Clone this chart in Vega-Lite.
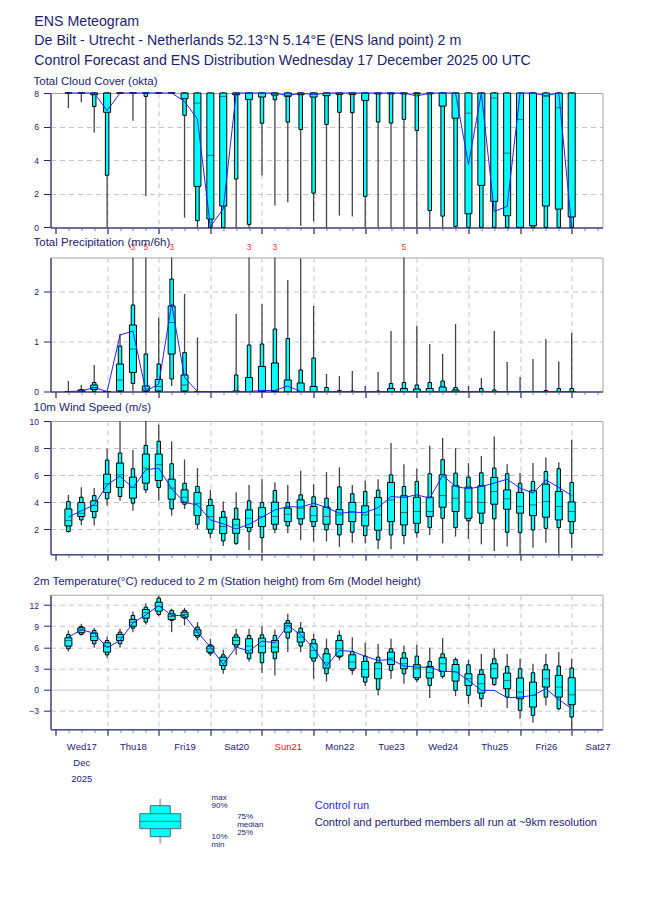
{
  "$schema": "https://vega.github.io/schema/vega-lite/v6.json",
  "background": "white",
  "padding": {"left": 27.5, "top": 15, "right": 10, "bottom": 10},
  "title": {
    "text": ["ENS Meteogram", "De Bilt - Utrecht - Netherlands 52.13°N 5.14°E (ENS land point) 2 m", "Control Forecast and ENS Distribution Wednesday 17 December 2025 00 UTC"],
    "fontSize": 14.2, "lineHeight": 19.3, "anchor": "start", "frame": "bounds", "offset": 8, "dx": 6
  },
  "config": {
    "font": "Liberation Sans",
    "view": {"stroke": "#a8a49c", "strokeWidth": 1},
    "axis": {"labelFont": "Liberation Sans", "labelColor": "#23236f", "labelFontSize": 8.5, "domainColor": "#4c4c88", "tickColor": "#23236f", "gridColor": "#c6c6c6", "gridDash": [5, 4]},
    "axisY": {"labelOverlap": false, "format": "d"},
    "title": {"font": "Liberation Sans", "fontWeight": "normal", "color": "#1d1d6d", "anchor": "start"},
    "text": {"font": "Liberation Sans"}
  },
  "datasets": {
    "cloud": [
      {"t":6,"min":7.1,"p10":8,"p25":8,"med":8,"p75":8,"p90":8,"max":8,"ctrl":8},
      {"t":12,"min":7.45,"p10":8,"p25":8,"med":8,"p75":8,"p90":8,"max":8,"ctrl":8},
      {"t":18,"min":5.65,"p10":7.2,"p25":7.9,"med":8,"p75":8,"p90":8,"max":8,"ctrl":8},
      {"t":24,"min":0,"p10":3.1,"p25":6.85,"med":8,"p75":8,"p90":8,"max":8,"ctrl":6.95},
      {"t":30,"min":8,"p10":8,"p25":8,"med":8,"p75":8,"p90":8,"max":8,"ctrl":8},
      {"t":36,"min":6.35,"p10":8,"p25":8,"med":8,"p75":8,"p90":8,"max":8,"ctrl":8},
      {"t":42,"min":1.85,"p10":7.8,"p25":8,"med":8,"p75":8,"p90":8,"max":8,"ctrl":8},
      {"t":48,"min":8,"p10":8,"p25":8,"med":8,"p75":8,"p90":8,"max":8,"ctrl":8},
      {"t":54,"min":8,"p10":8,"p25":8,"med":8,"p75":8,"p90":8,"max":8,"ctrl":8},
      {"t":60,"min":0.58,"p10":6.67,"p25":7.66,"med":8,"p75":8,"p90":8,"max":8,"ctrl":7.5},
      {"t":66,"min":0,"p10":0.4,"p25":2.44,"med":7.4,"p75":8,"p90":8,"max":8,"ctrl":6.45},
      {"t":72,"min":0,"p10":0,"p25":0.5,"med":4.29,"p75":8,"p90":8,"max":8,"ctrl":0.05},
      {"t":78,"min":0,"p10":0,"p25":1.27,"med":7.8,"p75":8,"p90":8,"max":8,"ctrl":1.1},
      {"t":84,"min":0,"p10":2.88,"p25":7.9,"med":8,"p75":8,"p90":8,"max":8,"ctrl":8},
      {"t":90,"min":0,"p10":0.18,"p25":7.62,"med":8,"p75":8,"p90":8,"max":8,"ctrl":8},
      {"t":96,"min":3.1,"p10":6.2,"p25":7.76,"med":8,"p75":8,"p90":8,"max":8,"ctrl":8},
      {"t":102,"min":1.3,"p10":7.6,"p25":7.88,"med":8,"p75":8,"p90":8,"max":8,"ctrl":8},
      {"t":108,"min":1.5,"p10":6.27,"p25":7.8,"med":8,"p75":8,"p90":8,"max":8,"ctrl":7.84},
      {"t":114,"min":0.1,"p10":5.83,"p25":7.9,"med":8,"p75":8,"p90":8,"max":8,"ctrl":8},
      {"t":120,"min":0.36,"p10":2.04,"p25":7.76,"med":8,"p75":8,"p90":8,"max":8,"ctrl":7.9},
      {"t":126,"min":0,"p10":6.13,"p25":7.84,"med":8,"p75":8,"p90":8,"max":8,"ctrl":8},
      {"t":132,"min":0.7,"p10":6.85,"p25":7.92,"med":8,"p75":8,"p90":8,"max":8,"ctrl":8},
      {"t":138,"min":0.65,"p10":6.83,"p25":7.92,"med":8,"p75":8,"p90":8,"max":8,"ctrl":8},
      {"t":144,"min":0,"p10":1.85,"p25":7.56,"med":8,"p75":8,"p90":8,"max":8,"ctrl":8},
      {"t":150,"min":0,"p10":6.27,"p25":7.95,"med":8,"p75":8,"p90":8,"max":8,"ctrl":8},
      {"t":156,"min":0,"p10":6.21,"p25":7.95,"med":8,"p75":8,"p90":8,"max":8,"ctrl":8},
      {"t":162,"min":0,"p10":6.43,"p25":7.95,"med":8,"p75":8,"p90":8,"max":8,"ctrl":8},
      {"t":168,"min":0,"p10":5.77,"p25":7.95,"med":8,"p75":8,"p90":8,"max":8,"ctrl":7.82},
      {"t":174,"min":0,"p10":1.0,"p25":7.95,"med":8,"p75":8,"p90":8,"max":8,"ctrl":8},
      {"t":180,"min":0,"p10":0.67,"p25":7.22,"med":8,"p75":8,"p90":8,"max":8,"ctrl":8},
      {"t":186,"min":0,"p10":0.06,"p25":6.5,"med":8,"p75":8,"p90":8,"max":8,"ctrl":8},
      {"t":192,"min":0,"p10":0,"p25":0.81,"med":6.8,"p75":8,"p90":8,"max":8,"ctrl":3.75},
      {"t":198,"min":0,"p10":0,"p25":2.5,"med":8,"p75":8,"p90":8,"max":8,"ctrl":8},
      {"t":204,"min":0,"p10":0,"p25":1.55,"med":7.7,"p75":8,"p90":8,"max":8,"ctrl":0.95},
      {"t":210,"min":0,"p10":0,"p25":0.69,"med":4.42,"p75":8,"p90":8,"max":8,"ctrl":1.25},
      {"t":216,"min":0,"p10":0,"p25":0,"med":6.43,"p75":8,"p90":8,"max":8,"ctrl":8},
      {"t":222,"min":0,"p10":0,"p25":0.1,"med":8,"p75":8,"p90":8,"max":8,"ctrl":8},
      {"t":228,"min":0,"p10":0,"p25":1.27,"med":7.8,"p75":8,"p90":8,"max":8,"ctrl":7.84},
      {"t":234,"min":0,"p10":0,"p25":1.09,"med":7.12,"p75":8,"p90":8,"max":8,"ctrl":8},
      {"t":240,"min":0,"p10":0,"p25":0.62,"med":8,"p75":8,"p90":8,"max":8,"ctrl":0}
    ],
    "precip": [
      {"t":6,"min":0,"p10":0,"p25":0,"med":0,"p75":0,"p90":0,"max":0.21,"ctrl":0},
      {"t":12,"min":0,"p10":0,"p25":0,"med":0,"p75":0.03,"p90":0.04,"max":0.13,"ctrl":0.01},
      {"t":18,"min":0,"p10":0,"p25":0.04,"med":0.08,"p75":0.13,"p90":0.18,"max":0.53,"ctrl":0.08},
      {"t":24,"min":0,"p10":0,"p25":0,"med":0,"p75":0,"p90":0,"max":0,"ctrl":0},
      {"t":30,"min":0,"p10":0,"p25":0.01,"med":0.23,"p75":0.55,"p90":0.91,"max":1.15,"ctrl":1.13},
      {"t":36,"min":0,"p10":0.16,"p25":0.38,"med":0.85,"p75":1.33,"p90":1.73,"max":3.2,"ctrl":1.21},
      {"t":42,"min":0,"p10":0,"p25":0.01,"med":0.05,"p75":0.11,"p90":0.75,"max":5.0,"ctrl":0.01},
      {"t":48,"min":0,"p10":0,"p25":0.01,"med":0.1,"p75":0.24,"p90":0.55,"max":1.48,"ctrl":0.15},
      {"t":54,"min":0.11,"p10":0.25,"p25":0.75,"med":1.38,"p75":1.71,"p90":2.25,"max":3.1,"ctrl":1.75},
      {"t":60,"min":0,"p10":0,"p25":0.01,"med":0.13,"p75":0.33,"p90":0.78,"max":1.95,"ctrl":0.28},
      {"t":66,"min":0,"p10":0,"p25":0,"med":0,"p75":0,"p90":0,"max":1.08,"ctrl":0},
      {"t":72,"min":0,"p10":0,"p25":0,"med":0,"p75":0,"p90":0,"max":0,"ctrl":0},
      {"t":78,"min":0,"p10":0,"p25":0,"med":0,"p75":0,"p90":0,"max":0,"ctrl":0},
      {"t":84,"min":0,"p10":0,"p25":0,"med":0,"p75":0.01,"p90":0.33,"max":1.55,"ctrl":0},
      {"t":90,"min":0,"p10":0,"p25":0,"med":0,"p75":0.28,"p90":0.93,"max":3.0,"ctrl":0},
      {"t":96,"min":0,"p10":0,"p25":0,"med":0.01,"p75":0.5,"p90":0.95,"max":1.75,"ctrl":0.02},
      {"t":102,"min":0,"p10":0,"p25":0,"med":0.01,"p75":0.57,"p90":1.25,"max":3.0,"ctrl":0.02},
      {"t":108,"min":0,"p10":0,"p25":0,"med":0,"p75":0.23,"p90":1.06,"max":2.23,"ctrl":0.11},
      {"t":114,"min":0,"p10":0,"p25":0,"med":0,"p75":0.17,"p90":0.43,"max":2.66,"ctrl":0},
      {"t":120,"min":0,"p10":0,"p25":0,"med":0,"p75":0.1,"p90":0.67,"max":1.71,"ctrl":0},
      {"t":126,"min":0,"p10":0,"p25":0,"med":0,"p75":0,"p90":0.08,"max":0.35,"ctrl":0},
      {"t":132,"min":0,"p10":0,"p25":0,"med":0,"p75":0,"p90":0.02,"max":0.31,"ctrl":0},
      {"t":138,"min":0,"p10":0,"p25":0,"med":0,"p75":0,"p90":0.01,"max":0.41,"ctrl":0},
      {"t":144,"min":0,"p10":0,"p25":0,"med":0,"p75":0,"p90":0,"max":0.11,"ctrl":0},
      {"t":150,"min":0,"p10":0,"p25":0,"med":0,"p75":0,"p90":0.01,"max":0.39,"ctrl":0},
      {"t":156,"min":0,"p10":0,"p25":0,"med":0,"p75":0.06,"p90":0.16,"max":1.21,"ctrl":0},
      {"t":162,"min":0,"p10":0,"p25":0,"med":0,"p75":0.06,"p90":0.18,"max":5.0,"ctrl":0},
      {"t":168,"min":0,"p10":0,"p25":0,"med":0,"p75":0.05,"p90":0.13,"max":1.31,"ctrl":0},
      {"t":174,"min":0,"p10":0,"p25":0,"med":0,"p75":0.06,"p90":0.18,"max":0.95,"ctrl":0},
      {"t":180,"min":0,"p10":0,"p25":0,"med":0,"p75":0.09,"p90":0.21,"max":0.75,"ctrl":0},
      {"t":186,"min":0,"p10":0,"p25":0,"med":0,"p75":0.03,"p90":0.08,"max":1.35,"ctrl":0},
      {"t":192,"min":0,"p10":0,"p25":0,"med":0,"p75":0,"p90":0,"max":0.11,"ctrl":0},
      {"t":198,"min":0,"p10":0,"p25":0,"med":0,"p75":0,"p90":0.06,"max":0.27,"ctrl":0},
      {"t":204,"min":0,"p10":0,"p25":0,"med":0,"p75":0,"p90":0.03,"max":1.21,"ctrl":0},
      {"t":210,"min":0,"p10":0,"p25":0,"med":0,"p75":0,"p90":0,"max":0.59,"ctrl":0},
      {"t":216,"min":0,"p10":0,"p25":0,"med":0,"p75":0,"p90":0,"max":0.29,"ctrl":0},
      {"t":222,"min":0,"p10":0,"p25":0,"med":0,"p75":0,"p90":0,"max":0.65,"ctrl":0},
      {"t":228,"min":0,"p10":0,"p25":0,"med":0,"p75":0,"p90":0.02,"max":1.05,"ctrl":0},
      {"t":234,"min":0,"p10":0,"p25":0,"med":0,"p75":0,"p90":0.06,"max":0.6,"ctrl":0},
      {"t":240,"min":0,"p10":0,"p25":0,"med":0,"p75":0,"p90":0.06,"max":1.17,"ctrl":0}
    ],
    "wind": [
      {"t":6,"min":1.75,"p10":1.83,"p25":2.25,"med":2.64,"p75":3.5,"p90":4.05,"max":4.54,"ctrl":2.9},
      {"t":12,"min":2.3,"p10":2.69,"p25":2.94,"med":3.18,"p75":3.97,"p90":4.37,"max":5.1,"ctrl":3.36},
      {"t":18,"min":2.27,"p10":2.86,"p25":3.31,"med":3.75,"p75":4.1,"p90":4.49,"max":5.04,"ctrl":3.8},
      {"t":24,"min":3.75,"p10":4.25,"p25":4.72,"med":5.36,"p75":6.07,"p90":7.11,"max":7.95,"ctrl":5.28},
      {"t":30,"min":4.1,"p10":4.42,"p25":5.09,"med":6.02,"p75":6.89,"p90":7.63,"max":10.5,"ctrl":5.93},
      {"t":36,"min":3.36,"p10":3.93,"p25":4.3,"med":5.09,"p75":5.85,"p90":6.47,"max":7.85,"ctrl":5.04},
      {"t":42,"min":4.67,"p10":4.91,"p25":5.41,"med":6.52,"p75":7.56,"p90":8.2,"max":10.3,"ctrl":6.4},
      {"t":48,"min":4.1,"p10":5.09,"p25":5.6,"med":6.77,"p75":7.56,"p90":8.5,"max":9.73,"ctrl":6.52},
      {"t":54,"min":3.0,"p10":3.5,"p25":4.22,"med":5.04,"p75":5.7,"p90":6.84,"max":8.5,"ctrl":4.99},
      {"t":60,"min":3.5,"p10":3.85,"p25":4.0,"med":4.37,"p75":4.91,"p90":5.4,"max":7.16,"ctrl":3.98},
      {"t":66,"min":2.02,"p10":2.37,"p25":3.01,"med":3.93,"p75":4.72,"p90":5.16,"max":6.52,"ctrl":3.8},
      {"t":72,"min":1.33,"p10":1.7,"p25":2.0,"med":2.94,"p75":3.75,"p90":4.22,"max":4.91,"ctrl":2.69},
      {"t":78,"min":0.77,"p10":1.14,"p25":1.68,"med":2.2,"p75":2.89,"p90":3.31,"max":4.05,"ctrl":2.4},
      {"t":84,"min":0.84,"p10":0.96,"p25":1.7,"med":2.32,"p75":2.74,"p90":3.56,"max":4.74,"ctrl":2.02},
      {"t":90,"min":0.47,"p10":1.83,"p25":2.12,"med":2.81,"p75":3.43,"p90":4.1,"max":5.28,"ctrl":2.37},
      {"t":96,"min":0.22,"p10":1.38,"p25":2.2,"med":2.94,"p75":3.6,"p90":3.98,"max":5.7,"ctrl":2.89},
      {"t":102,"min":1.7,"p10":2.0,"p25":2.37,"med":2.94,"p75":4.0,"p90":4.86,"max":5.48,"ctrl":3.43},
      {"t":108,"min":1.7,"p10":2.25,"p25":2.57,"med":3.11,"p75":3.56,"p90":3.98,"max":5.28,"ctrl":3.68},
      {"t":114,"min":1.21,"p10":2.37,"p25":2.77,"med":3.56,"p75":4.17,"p90":4.54,"max":6.32,"ctrl":3.63},
      {"t":120,"min":1.09,"p10":2.2,"p25":2.57,"med":3.0,"p75":3.68,"p90":4.4,"max":5.33,"ctrl":3.93},
      {"t":126,"min":1.09,"p10":1.95,"p25":2.37,"med":2.94,"p75":3.63,"p90":4.3,"max":6.22,"ctrl":3.6},
      {"t":132,"min":0.7,"p10":1.58,"p25":2.35,"med":3.06,"p75":3.45,"p90":5.13,"max":6.57,"ctrl":3.19},
      {"t":138,"min":1.01,"p10":1.78,"p25":2.57,"med":3.31,"p75":3.98,"p90":4.62,"max":5.28,"ctrl":3.26},
      {"t":144,"min":0.96,"p10":1.53,"p25":2.25,"med":3.06,"p75":3.73,"p90":4.79,"max":5.6,"ctrl":3.23},
      {"t":150,"min":0.54,"p10":1.21,"p25":1.93,"med":3.06,"p75":4.35,"p90":4.89,"max":5.7,"ctrl":3.6},
      {"t":156,"min":0.52,"p10":1.58,"p25":2.57,"med":4.17,"p75":5.46,"p90":6.02,"max":8.37,"ctrl":4.42},
      {"t":162,"min":0.89,"p10":1.53,"p25":2.32,"med":3.23,"p75":4.47,"p90":5.16,"max":6.81,"ctrl":4.35},
      {"t":168,"min":1.38,"p10":1.75,"p25":2.44,"med":3.31,"p75":4.37,"p90":5.53,"max":6.47,"ctrl":4.54},
      {"t":174,"min":1.58,"p10":2.12,"p25":2.94,"med":3.31,"p75":4.37,"p90":6.1,"max":8.17,"ctrl":4.3},
      {"t":180,"min":0.96,"p10":2.81,"p25":3.63,"med":4.49,"p75":6.02,"p90":7.14,"max":8.74,"ctrl":5.98},
      {"t":186,"min":1.46,"p10":2.12,"p25":3.31,"med":4.3,"p75":5.21,"p90":6.15,"max":8.0,"ctrl":5.16},
      {"t":192,"min":1.28,"p10":2.62,"p25":2.81,"med":4.0,"p75":5.11,"p90":5.85,"max":6.89,"ctrl":4.99},
      {"t":198,"min":0.89,"p10":2.44,"p25":3.19,"med":3.98,"p75":5.21,"p90":6.17,"max":7.41,"ctrl":5.16},
      {"t":204,"min":0.4,"p10":2.77,"p25":3.85,"med":4.79,"p75":5.83,"p90":6.52,"max":8.86,"ctrl":5.41},
      {"t":210,"min":0.72,"p10":1.78,"p25":3.48,"med":4.25,"p75":4.91,"p90":6.1,"max":6.81,"ctrl":5.7},
      {"t":216,"min":0.15,"p10":1.75,"p25":3.19,"med":3.68,"p75":4.72,"p90":5.4,"max":6.15,"ctrl":5.04},
      {"t":222,"min":0.64,"p10":1.95,"p25":3.01,"med":3.8,"p75":4.84,"p90":5.53,"max":6.89,"ctrl":4.67},
      {"t":228,"min":1.01,"p10":2.07,"p25":2.89,"med":4.05,"p75":5.33,"p90":6.27,"max":7.31,"ctrl":5.65},
      {"t":234,"min":0.15,"p10":2.12,"p25":2.69,"med":3.68,"p75":4.79,"p90":6.47,"max":6.96,"ctrl":5.09},
      {"t":240,"min":0.64,"p10":1.7,"p25":2.57,"med":3.31,"p75":4.02,"p90":5.46,"max":8.62,"ctrl":4.49}
    ],
    "temp": [
      {"t":6,"min":5.42,"p10":5.8,"p25":6.18,"med":6.98,"p75":7.36,"p90":7.83,"max":8.4,"ctrl":7.45},
      {"t":12,"min":7.69,"p10":7.83,"p25":8.07,"med":8.49,"p75":8.77,"p90":8.96,"max":9.34,"ctrl":8.49},
      {"t":18,"min":5.94,"p10":6.51,"p25":6.98,"med":7.55,"p75":8.02,"p90":8.4,"max":8.73,"ctrl":8.02},
      {"t":24,"min":4.48,"p10":4.95,"p25":5.33,"med":6.13,"p75":6.65,"p90":6.98,"max":7.55,"ctrl":5.94},
      {"t":30,"min":5.94,"p10":6.51,"p25":6.98,"med":7.45,"p75":7.83,"p90":8.16,"max":8.63,"ctrl":6.98},
      {"t":36,"min":8.16,"p10":8.73,"p25":9.0,"med":9.58,"p75":9.95,"p90":10.52,"max":11.08,"ctrl":9.48},
      {"t":42,"min":9.25,"p10":9.58,"p25":10.14,"med":10.9,"p75":11.37,"p90":11.7,"max":12.26,"ctrl":10.6},
      {"t":48,"min":10.42,"p10":10.66,"p25":11.13,"med":11.8,"p75":12.4,"p90":12.97,"max":13.35,"ctrl":11.93},
      {"t":54,"min":8.16,"p10":9.81,"p25":9.95,"med":10.38,"p75":10.75,"p90":11.23,"max":11.46,"ctrl":10.52},
      {"t":60,"min":9.1,"p10":10.14,"p25":10.28,"med":10.66,"p75":10.99,"p90":11.23,"max":11.6,"ctrl":10.52},
      {"t":66,"min":6.98,"p10":7.45,"p25":7.69,"med":8.16,"p75":8.49,"p90":8.87,"max":9.58,"ctrl":8.16},
      {"t":72,"min":4.76,"p10":5.09,"p25":5.33,"med":5.8,"p75":6.18,"p90":6.37,"max":7.22,"ctrl":6.04},
      {"t":78,"min":2.26,"p10":2.88,"p25":3.44,"med":4.15,"p75":4.62,"p90":4.95,"max":5.66,"ctrl":3.58},
      {"t":84,"min":4.95,"p10":6.04,"p25":6.37,"med":6.98,"p75":7.45,"p90":7.78,"max":8.63,"ctrl":6.04},
      {"t":90,"min":4.01,"p10":4.39,"p25":5.19,"med":6.18,"p75":7.22,"p90":7.69,"max":8.63,"ctrl":5.47},
      {"t":96,"min":2.36,"p10":3.82,"p25":5.24,"med":6.18,"p75":7.31,"p90":7.78,"max":9.0,"ctrl":6.89},
      {"t":102,"min":2.03,"p10":4.39,"p25":5.33,"med":6.04,"p75":6.98,"p90":7.69,"max":8.54,"ctrl":6.65},
      {"t":108,"min":5.33,"p10":7.31,"p25":8.16,"med":9.1,"p75":9.43,"p90":9.81,"max":10.75,"ctrl":9.1},
      {"t":114,"min":5.33,"p10":6.18,"p25":6.75,"med":7.45,"p75":8.16,"p90":8.73,"max":9.58,"ctrl":7.78},
      {"t":120,"min":1.56,"p10":4.06,"p25":4.48,"med":5.57,"p75":6.51,"p90":7.12,"max":7.92,"ctrl":5.9},
      {"t":126,"min":1.18,"p10":2.26,"p25":3.07,"med":3.82,"p75":5.09,"p90":5.8,"max":7.22,"ctrl":3.35},
      {"t":132,"min":4.15,"p10":4.62,"p25":4.76,"med":5.8,"p75":6.98,"p90":7.69,"max":8.4,"ctrl":5.57},
      {"t":138,"min":2.12,"p10":2.74,"p25":2.97,"med":3.92,"p75":4.95,"p90":5.42,"max":7.45,"ctrl":5.42},
      {"t":144,"min":0.52,"p10":1.08,"p25":1.79,"med":2.88,"p75":4.01,"p90":4.76,"max":6.65,"ctrl":4.76},
      {"t":150,"min":-0.8,"p10":0.05,"p25":1.56,"med":2.97,"p75":3.82,"p90":4.62,"max":6.51,"ctrl":4.15},
      {"t":156,"min":1.56,"p10":2.74,"p25":3.58,"med":4.48,"p75":5.33,"p90":5.8,"max":7.22,"ctrl":4.29},
      {"t":162,"min":0.85,"p10":2.26,"p25":2.97,"med":3.68,"p75":4.48,"p90":5.24,"max":6.27,"ctrl":3.35},
      {"t":168,"min":1.08,"p10":1.42,"p25":1.7,"med":2.97,"p75":3.54,"p90":4.76,"max":6.37,"ctrl":3.21},
      {"t":174,"min":-1.18,"p10":0.61,"p25":1.65,"med":2.41,"p75":3.3,"p90":4.01,"max":5.94,"ctrl":3.16},
      {"t":180,"min":1.56,"p10":1.89,"p25":2.59,"med":3.68,"p75":4.53,"p90":5.09,"max":7.31,"ctrl":2.59},
      {"t":186,"min":-0.9,"p10":-0.09,"p25":1.23,"med":2.5,"p75":3.58,"p90":4.29,"max":4.6,"ctrl":2.59},
      {"t":192,"min":-1.98,"p10":-0.8,"p25":0.61,"med":1.56,"p75":2.26,"p90":3.54,"max":4.25,"ctrl":1.32},
      {"t":198,"min":-2.45,"p10":-1.27,"p25":-0.47,"med":0.85,"p75":2.17,"p90":2.83,"max":5.09,"ctrl":-0.09},
      {"t":204,"min":0.52,"p10":0.75,"p25":1.65,"med":2.97,"p75":3.68,"p90":4.39,"max":5.8,"ctrl":-0.09},
      {"t":210,"min":-2.59,"p10":-1.04,"p25":0.14,"med":1.32,"p75":2.36,"p90":3.3,"max":5.09,"ctrl":-1.13},
      {"t":216,"min":-4.1,"p10":-2.92,"p25":-1.27,"med":-0.33,"p75":1.65,"p90":2.97,"max":4.39,"ctrl":-1.04},
      {"t":222,"min":-4.67,"p10":-3.63,"p25":-2.45,"med":-0.8,"p75":1.08,"p90":2.41,"max":3.68,"ctrl":-0.8},
      {"t":228,"min":-2.22,"p10":-1.04,"p25":0.38,"med":1.56,"p75":2.83,"p90":3.54,"max":5.09,"ctrl":0.14},
      {"t":234,"min":-2.92,"p10":-2.69,"p25":-1.04,"med":0.38,"p75":2.03,"p90":3.35,"max":5.33,"ctrl":-1.37},
      {"t":240,"min":-5.61,"p10":-3.87,"p25":-2.12,"med":-0.71,"p75":1.7,"p90":3.07,"max":4.39,"ctrl":-2.69}
    ],
    "legendbox": [
      {"min":5,"p10":12,"p25":20,"med":27.3,"p75":35,"p90":43,"max":50}
    ]
  },
  "vconcat": [
    {
      "vconcat": [
        {
          "vconcat": [
            {
              "title": {"text": "Total Cloud Cover (okta)", "fontSize": 11.5, "frame": "group", "dx": -17, "offset": -7.85, "baseline": "alphabetic"},
              "width": 552, "height": 134.4,
              "data": {"name": "cloud"},
              "encoding": {
                "x": {"field": "t", "type": "quantitative", "scale": {"domain": [0, 252], "nice": false, "zero": false},
                  "axis": {"title": null, "labels": false, "values": [0,6,12,18,24,30,36,42,48,54,60,66,72,78,84,90,96,102,108,114,120,126,132,138,144,150,156,162,168,174,180,186,192,198,204,210,216,222,228,234,240,246,252],
                    "domainColor": "#4c4c88", "domainWidth": 1.5, "tickWidth": 1.2, "tickCount": 100,
                    "tickSize": {"condition": {"test": "datum.value % 24 === 0", "value": 6}, "value": 3},
                    "tickColor": {"condition": {"test": "datum.value % 24 === 0", "value": "#23236f"}, "value": "#9090b8"},
                    "grid": true,
                    "gridOpacity": {"condition": {"test": "datum.value % 24 === 0 && datum.value > 0 && datum.value < 252", "value": 1}, "value": 0}}}
              },
              "layer": [
                {"mark": {"type": "rule", "color": "#444444", "strokeWidth": 1.3},
                 "encoding": {"y": {"field": "min", "type": "quantitative", "scale": {"domain": [0, 8], "nice": false, "zero": false, "clamp": true},
                   "axis": {"title": null, "values": [0, 2, 4, 6, 8], "tickCount": 50, "tickSize": 7, "labelPadding": 5, "domainWidth": 1.5, "grid": true, "labelOverlap": false, "format": "d",
                     "gridOpacity": {"condition": {"test": "datum.value > 0 && datum.value < 8", "value": 1}, "value": 0}}},
                   "y2": {"field": "max"}}},
                {"mark": {"type": "bar", "size": 3.5, "fill": "#00ffff", "stroke": "#000000", "strokeWidth": 1},
                 "encoding": {"y": {"field": "p10", "type": "quantitative", "title": null}, "y2": {"field": "p90"}}},
                {"mark": {"type": "bar", "size": 7, "fill": "#00ffff", "stroke": "#000000", "strokeWidth": 1},
                 "encoding": {"y": {"field": "p25", "type": "quantitative", "title": null}, "y2": {"field": "p75"}}},
                {"mark": {"type": "tick", "orient": "horizontal", "size": 7, "thickness": 1, "color": "#333333"},
                 "encoding": {"y": {"field": "med", "type": "quantitative", "title": null}}},
                {"mark": {"type": "line", "color": "#2222ff", "strokeWidth": 1},
                 "encoding": {"y": {"field": "ctrl", "type": "quantitative", "title": null}}}
              ]
            },
            {
              "title": {"text": "Total Precipitation (mm/6h)", "fontSize": 11.5, "frame": "group", "dx": -17, "offset": -15.1, "baseline": "alphabetic"},
              "width": 552, "height": 134,
              "data": {"name": "precip"},
              "encoding": {
                "x": {"field": "t", "type": "quantitative", "scale": {"domain": [0, 252], "nice": false, "zero": false},
                  "axis": {"title": null, "labels": false, "values": [0,6,12,18,24,30,36,42,48,54,60,66,72,78,84,90,96,102,108,114,120,126,132,138,144,150,156,162,168,174,180,186,192,198,204,210,216,222,228,234,240,246,252],
                    "domainColor": "#4c4c88", "domainWidth": 1.5, "tickWidth": 1.2, "tickCount": 100,
                    "tickSize": {"condition": {"test": "datum.value % 24 === 0", "value": 6}, "value": 3},
                    "tickColor": {"condition": {"test": "datum.value % 24 === 0", "value": "#23236f"}, "value": "#9090b8"},
                    "grid": true,
                    "gridOpacity": {"condition": {"test": "datum.value % 24 === 0 && datum.value > 0 && datum.value < 252", "value": 1}, "value": 0}}}
              },
              "layer": [
                {"mark": {"type": "rule", "color": "#444444", "strokeWidth": 1.3},
                 "encoding": {"y": {"field": "min", "type": "quantitative", "scale": {"domain": [0, 2.68], "nice": false, "zero": false, "clamp": true},
                   "axis": {"title": null, "values": [0, 1, 2], "tickCount": 50, "tickSize": 7, "labelPadding": 5, "domainWidth": 1.5, "grid": true, "labelOverlap": false, "format": "d",
                     "gridOpacity": {"condition": {"test": "datum.value > 0", "value": 1}, "value": 0}}},
                   "y2": {"field": "max"}}},
                {"mark": {"type": "bar", "size": 3.5, "fill": "#00ffff", "stroke": "#000000", "strokeWidth": 1},
                 "encoding": {"y": {"field": "p10", "type": "quantitative", "title": null}, "y2": {"field": "p90"}}},
                {"mark": {"type": "bar", "size": 7, "fill": "#00ffff", "stroke": "#000000", "strokeWidth": 1},
                 "encoding": {"y": {"field": "p25", "type": "quantitative", "title": null}, "y2": {"field": "p75"}}},
                {"mark": {"type": "tick", "orient": "horizontal", "size": 7, "thickness": 1, "color": "#333333"},
                 "encoding": {"y": {"field": "med", "type": "quantitative", "title": null}}},
                {"mark": {"type": "line", "color": "#2222ff", "strokeWidth": 1},
                 "encoding": {"y": {"field": "ctrl", "type": "quantitative", "title": null}}},
                {"transform": [{"filter": "datum.max > 2.68"}],
                 "mark": {"type": "text", "color": "#ff3333", "fontSize": 8.5, "baseline": "middle", "dy": -11},
                 "encoding": {"y": {"field": "max", "type": "quantitative", "title": null}, "text": {"field": "max", "type": "quantitative", "format": ".0f"}}}
              ]
            },
            {
              "title": {"text": "10m Wind Speed (m/s)", "fontSize": 11.5, "frame": "group", "dx": -17, "offset": -5.85, "baseline": "alphabetic"},
              "width": 552, "height": 133.3,
              "data": {"name": "wind"},
              "encoding": {
                "x": {"field": "t", "type": "quantitative", "scale": {"domain": [0, 252], "nice": false, "zero": false},
                  "axis": {"title": null, "labels": false, "values": [0,6,12,18,24,30,36,42,48,54,60,66,72,78,84,90,96,102,108,114,120,126,132,138,144,150,156,162,168,174,180,186,192,198,204,210,216,222,228,234,240,246,252],
                    "domainColor": "#4c4c88", "domainWidth": 1.5, "tickWidth": 1.2, "tickCount": 100,
                    "tickSize": {"condition": {"test": "datum.value % 24 === 0", "value": 6}, "value": 3},
                    "tickColor": {"condition": {"test": "datum.value % 24 === 0", "value": "#23236f"}, "value": "#9090b8"},
                    "grid": true,
                    "gridOpacity": {"condition": {"test": "datum.value % 24 === 0 && datum.value > 0 && datum.value < 252", "value": 1}, "value": 0}}}
              },
              "layer": [
                {"mark": {"type": "rule", "color": "#444444", "strokeWidth": 1.3},
                 "encoding": {"y": {"field": "min", "type": "quantitative", "scale": {"domain": [0.15, 10], "nice": false, "zero": false, "clamp": true},
                   "axis": {"title": null, "values": [2, 4, 6, 8, 10], "tickCount": 50, "tickSize": 7, "labelPadding": 5, "domainWidth": 1.5, "grid": true, "labelOverlap": false, "format": "d",
                     "gridOpacity": {"condition": {"test": "datum.value < 10", "value": 1}, "value": 0}}},
                   "y2": {"field": "max"}}},
                {"mark": {"type": "bar", "size": 3.5, "fill": "#00ffff", "stroke": "#000000", "strokeWidth": 1},
                 "encoding": {"y": {"field": "p10", "type": "quantitative", "title": null}, "y2": {"field": "p90"}}},
                {"mark": {"type": "bar", "size": 7, "fill": "#00ffff", "stroke": "#000000", "strokeWidth": 1},
                 "encoding": {"y": {"field": "p25", "type": "quantitative", "title": null}, "y2": {"field": "p75"}}},
                {"mark": {"type": "tick", "orient": "horizontal", "size": 7, "thickness": 1, "color": "#333333"},
                 "encoding": {"y": {"field": "med", "type": "quantitative", "title": null}}},
                {"mark": {"type": "line", "color": "#2222ff", "strokeWidth": 1},
                 "encoding": {"y": {"field": "ctrl", "type": "quantitative", "title": null}}}
              ]
            }
          ],
          "spacing": 1.5
        },
        {
          "title": {"text": "2m Temperature(°C) reduced to 2 m (Station height) from 6m (Model height)", "fontSize": 11.5, "frame": "group", "dx": -17, "offset": -1.4, "baseline": "alphabetic"},
          "width": 552, "height": 134.6,
          "data": {"name": "temp"},
          "encoding": {
            "x": {"field": "t", "type": "quantitative", "scale": {"domain": [0, 252], "nice": false, "zero": false},
              "axis": {"title": null, "values": [0,6,12,18,24,30,36,42,48,54,60,66,72,78,84,90,96,102,108,114,120,126,132,138,144,150,156,162,168,174,180,186,192,198,204,210,216,222,228,234,240,246,252],
                "domainColor": "#4c4c88", "domainWidth": 1.5, "tickWidth": 1.2, "tickCount": 100,
                "tickSize": {"condition": {"test": "datum.value % 24 === 0", "value": 6}, "value": 3},
                "tickColor": {"condition": {"test": "datum.value % 24 === 0", "value": "#23236f"}, "value": "#9090b8"},
                "grid": true,
                "gridOpacity": {"condition": {"test": "datum.value % 24 === 0 && datum.value > 0 && datum.value < 252", "value": 1}, "value": 0},
                "labelExpr": "datum.value === 12 ? ['Wed17', 'Dec', '2025'] : (datum.value % 24 === 12 ? ['Wed17','Thu18','Fri19','Sat20','Sun21','Mon22','Tue23','Wed24','Thu25','Fri26','Sat27'][floor(datum.value / 24)] : '')",
                "labelFontSize": 9.5, "labelLineHeight": 16, "labelPadding": 9, "labelOverlap": false, "labelFlush": false, "labelBaseline": "top",
                "labelColor": {"condition": {"test": "datum.value === 108", "value": "#ee1111"}, "value": "#23236f"}}}
          },
          "layer": [
            {"mark": {"type": "rule", "color": "#444444", "strokeWidth": 1.3},
             "encoding": {"y": {"field": "min", "type": "quantitative", "scale": {"domain": [-5.6, 13.46], "nice": false, "zero": false, "clamp": true},
               "axis": {"title": null, "values": [-3, 0, 3, 6, 9, 12], "tickCount": 50, "tickSize": 7, "labelPadding": 5, "domainWidth": 1.5, "grid": true, "labelOverlap": false, "format": "d",
                 "gridDash": {"condition": {"test": "datum.value === 0", "value": [1, 0]}, "value": [5, 4]}}},
               "y2": {"field": "max"}}},
            {"mark": {"type": "bar", "size": 3.5, "fill": "#00ffff", "stroke": "#000000", "strokeWidth": 1},
             "encoding": {"y": {"field": "p10", "type": "quantitative", "title": null}, "y2": {"field": "p90"}}},
            {"mark": {"type": "bar", "size": 7, "fill": "#00ffff", "stroke": "#000000", "strokeWidth": 1},
             "encoding": {"y": {"field": "p25", "type": "quantitative", "title": null}, "y2": {"field": "p75"}}},
            {"mark": {"type": "tick", "orient": "horizontal", "size": 7, "thickness": 1, "color": "#333333"},
             "encoding": {"y": {"field": "med", "type": "quantitative", "title": null}}},
            {"mark": {"type": "line", "color": "#2222ff", "strokeWidth": 1},
             "encoding": {"y": {"field": "ctrl", "type": "quantitative", "title": null}}}
          ]
        }
      ],
      "spacing": 12.7
    },
    {
      "width": 552, "height": 56,
      "view": {"stroke": null},
      "data": {"name": "legendbox"},
      "layer": [
        {"mark": {"type": "rule", "color": "#b4b4b4", "strokeWidth": 2},
         "encoding": {"x": {"datum": 106.7, "type": "quantitative", "scale": {"domain": [0, 552], "nice": false, "zero": false}, "axis": null},
           "y": {"field": "min", "type": "quantitative", "scale": {"domain": [0, 56], "nice": false, "zero": false}, "axis": null}, "y2": {"field": "max"}}},
        {"mark": {"type": "bar", "size": 20, "fill": "#00ffff", "stroke": "#3d7070", "strokeWidth": 1},
         "encoding": {"x": {"datum": 106.7, "type": "quantitative", "axis": null}, "y": {"field": "p10", "type": "quantitative", "axis": null}, "y2": {"field": "p90"}}},
        {"mark": {"type": "bar", "size": 41, "fill": "#00ffff", "stroke": "#3d7070", "strokeWidth": 1},
         "encoding": {"x": {"datum": 106.7, "type": "quantitative", "axis": null}, "y": {"field": "p25", "type": "quantitative", "axis": null}, "y2": {"field": "p75"}}},
        {"mark": {"type": "tick", "orient": "horizontal", "size": 41, "thickness": 1.2, "color": "#3d7070"},
         "encoding": {"x": {"datum": 106.7, "type": "quantitative", "axis": null}, "y": {"field": "med", "type": "quantitative", "axis": null}}},
        {"mark": {"type": "text", "align": "left", "baseline": "middle", "fontSize": 8, "lineHeight": 8, "color": "#23236f"},
         "encoding": {"x": {"datum": 159, "type": "quantitative", "axis": null}, "y": {"datum": 51, "type": "quantitative", "axis": null}, "text": {"value": ["max", "90%"]}}},
        {"mark": {"type": "text", "align": "left", "baseline": "middle", "fontSize": 8, "lineHeight": 8, "color": "#23236f"},
         "encoding": {"x": {"datum": 185, "type": "quantitative", "axis": null}, "y": {"datum": 31.5, "type": "quantitative", "axis": null}, "text": {"value": ["75%", "median", "25%"]}}},
        {"mark": {"type": "text", "align": "left", "baseline": "middle", "fontSize": 8, "lineHeight": 8, "color": "#23236f"},
         "encoding": {"x": {"datum": 159, "type": "quantitative", "axis": null}, "y": {"datum": 12, "type": "quantitative", "axis": null}, "text": {"value": ["10%", "min"]}}},
        {"mark": {"type": "text", "align": "left", "baseline": "middle", "fontSize": 11, "color": "#2a2af0"},
         "encoding": {"x": {"datum": 264, "type": "quantitative", "axis": null}, "y": {"datum": 42.3, "type": "quantitative", "axis": null}, "text": {"value": "Control run"}}},
        {"mark": {"type": "text", "align": "left", "baseline": "middle", "fontSize": 11, "color": "#23236f"},
         "encoding": {"x": {"datum": 264, "type": "quantitative", "axis": null}, "y": {"datum": 26, "type": "quantitative", "axis": null}, "text": {"value": "Control and perturbed members all run at ~9km resolution"}}}
      ]
    }
  ],
  "spacing": 8.7
}
